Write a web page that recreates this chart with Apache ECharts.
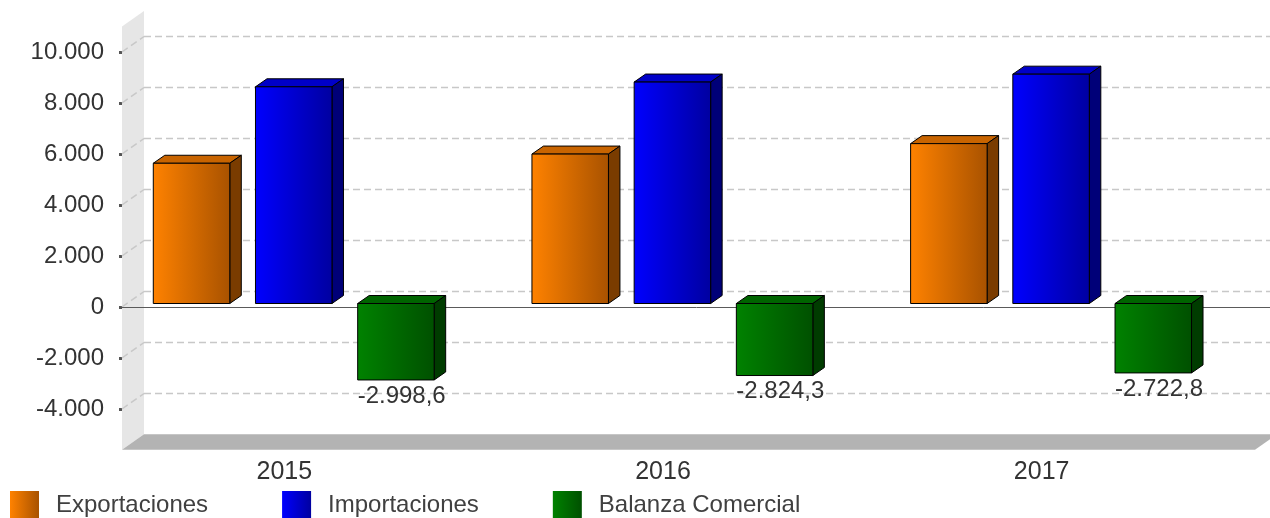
<!DOCTYPE html>
<html>
<head>
<meta charset="utf-8">
<script src="https://cdn.jsdelivr.net/npm/echarts@6/dist/echarts.min.js"></script>
<style>
html,body{margin:0;padding:0;background:#fff;}
#chart{width:1270px;height:518px;}
</style>
</head>
<body>
<div id="chart"></div>
<script>
var years = ['2015', '2016', '2017'];
var exportaciones = [5500, 5860, 6270];
var importaciones = [8498.6, 8684.3, 8992.8];
var balanza = [-2998.6, -2824.3, -2722.8];
var yTicks = [-4000, -2000, 0, 2000, 4000, 6000, 8000, 10000];
var seriesNames = ['Exportaciones', 'Importaciones', 'Balanza Comercial'];

var FONT = "'Liberation Sans', Arial, sans-serif";
var AXIS_MIN = -5600, AXIS_MAX = 11000;   // extent of the 3D box (wall/floor)
var BACK_DX = 22, BACK_DY = -15.5;          // depth of the box
var BAR_DX = 11.5, BAR_DY = -8;             // depth of each bar
var FRONT_DY = -3.5;                        // bar front face offset
var BW = 76.5, STEP = 102.2, SHIFT = 9.4;

function fmt(v, dec) {
  var s = Math.abs(v).toFixed(dec);
  var parts = s.split('.');
  var i = parts[0].replace(/\B(?=(\d{3})+(?!\d))/g, '.');
  return (v < 0 ? '-' : '') + i + (parts[1] ? ',' + parts[1] : '');
}
function lg(a, b) {
  return new echarts.graphic.LinearGradient(0, 0, 1, 0, [{offset: 0, color: a}, {offset: 1, color: b}]);
}
var palettes = [
  {front: ['#ff8200', '#a85200'], top: '#c86400', side: '#7a3c00'},
  {front: ['#0000ff', '#0000a0'], top: '#0000c8', side: '#000078'},
  {front: ['#008200', '#005000'], top: '#006400', side: '#003c00'}
];

function barRenderer(sIdx) {
  var pal = palettes[sIdx];
  return function (params, api) {
    var idx = api.value(0), val = api.value(1);
    var p0 = api.coord([idx, 0]), p1 = api.coord([idx, val]);
    var cx = p0[0] + SHIFT + (sIdx - 1) * STEP;
    var x0 = cx - BW / 2, x1 = cx + BW / 2;
    var yT = Math.min(p0[1], p1[1]) + FRONT_DY, yB = Math.max(p0[1], p1[1]) + FRONT_DY;
    var st = {stroke: '#000', lineWidth: 1};
    var ch = [
      {type: 'polygon', shape: {points: [[x0, yT], [x0 + BAR_DX, yT + BAR_DY], [x1 + BAR_DX, yT + BAR_DY], [x1, yT]]},
        style: Object.assign({fill: pal.top}, st)},
      {type: 'polygon', shape: {points: [[x1, yT], [x1 + BAR_DX, yT + BAR_DY], [x1 + BAR_DX, yB + BAR_DY], [x1, yB]]},
        style: Object.assign({fill: pal.side}, st)},
      {type: 'rect', shape: {x: x0, y: yT, width: BW, height: yB - yT},
        style: Object.assign({fill: lg(pal.front[0], pal.front[1])}, st)}
    ];
    if (val < 0) {
      ch.push({type: 'text', style: {text: fmt(val, 1), x: cx + BAR_DX / 2, y: yB + 16,
        align: 'center', verticalAlign: 'middle', fill: '#333', font: '24px ' + FONT}});
    }
    return {type: 'group', children: ch};
  };
}

function bgRenderer(params, api) {
  var ch = [];
  var fx0 = api.coord([0, 0])[0], fx1 = api.coord([1, 0])[0];
  var yMin = api.coord([0, AXIS_MIN])[1], yMax = api.coord([0, AXIS_MAX])[1];
  ch.push({type: 'polygon', shape: {points: [[fx0, yMin], [fx0, yMax], [fx0 + BACK_DX, yMax + BACK_DY], [fx0 + BACK_DX, yMin + BACK_DY]]},
    style: {fill: '#e6e6e6'}});
  ch.push({type: 'polygon', shape: {points: [[fx0, yMin], [fx1, yMin], [fx1 + BACK_DX, yMin + BACK_DY], [fx0 + BACK_DX, yMin + BACK_DY]]},
    style: {fill: '#b3b3b3'}});
  var ls = {stroke: '#c8c8c8', lineWidth: 1.5, lineDash: [7, 4]};
  yTicks.forEach(function (v) {
    var y = api.coord([0, v])[1];
    ch.push({type: 'line', shape: {x1: fx0 + BACK_DX, y1: y + BACK_DY, x2: 1275, y2: y + BACK_DY}, style: ls});
    ch.push({type: 'line', shape: {x1: fx0, y1: y, x2: fx0 + BACK_DX, y2: y + BACK_DY}, style: ls});
  });
  var y0 = Math.round(api.coord([0, 0])[1]) + 0.5;
  ch.push({type: 'line', shape: {x1: fx0, y1: y0, x2: 1275, y2: y0}, style: {stroke: '#5a5a5a', lineWidth: 1}});
  return {type: 'group', children: ch};
}

var chart = echarts.init(document.getElementById('chart'), null, {renderer: 'canvas'});
var valueAxisBase = {type: 'value', min: -4000, max: 10000, interval: 2000};
var series = [{
  type: 'custom', name: 'bg', xAxisIndex: 0, yAxisIndex: 0, silent: true, clip: false, z: 1,
  data: [[0, 0]], renderItem: bgRenderer
}];
[exportaciones, importaciones, balanza].forEach(function (arr, s) {
  series.push({
    type: 'custom', name: seriesNames[s], xAxisIndex: 1, yAxisIndex: 1, clip: false, z: 3,
    itemStyle: {color: lg(palettes[s].front[0], palettes[s].front[1])},
    data: arr.map(function (v, i) { return [i, v]; }),
    renderItem: barRenderer(s)
  });
});

chart.setOption({
  animation: false,
  backgroundColor: '#ffffff',
  textStyle: {fontFamily: FONT},
  grid: [
    {left: 122, right: 15, top: 52, bottom: 109},
    {left: 95, right: 39, top: 52, bottom: 109}
  ],
  xAxis: [
    {type: 'value', gridIndex: 0, min: 0, max: 1, show: false},
    {type: 'category', gridIndex: 1, data: years,
      axisLine: {show: false}, axisTick: {show: false}, splitLine: {show: false},
      axisLabel: {margin: 51, fontSize: 25, color: '#333', fontFamily: FONT}}
  ],
  yAxis: [
    Object.assign({gridIndex: 0,
      axisLine: {show: false},
      axisTick: {show: true, length: 3, lineStyle: {width: 3, color: '#555'}},
      splitLine: {show: false},
      axisLabel: {margin: 18, fontSize: 24, color: '#333', fontFamily: FONT,
        formatter: function (v) { return fmt(v, 0); }}}, valueAxisBase),
    Object.assign({gridIndex: 1, show: false, splitLine: {show: false}}, valueAxisBase)
  ],
  legend: {
    data: seriesNames.map(function (n) { return {name: n, icon: 'rect'}; }),
    left: 5, top: 486, itemWidth: 29, itemHeight: 28, itemGap: 74,
    textStyle: {fontSize: 24, color: '#404040', fontFamily: FONT, padding: [10, 0, 0, 12]},
    selectedMode: false
  },
  series: series
});
</script>
</body>
</html>
